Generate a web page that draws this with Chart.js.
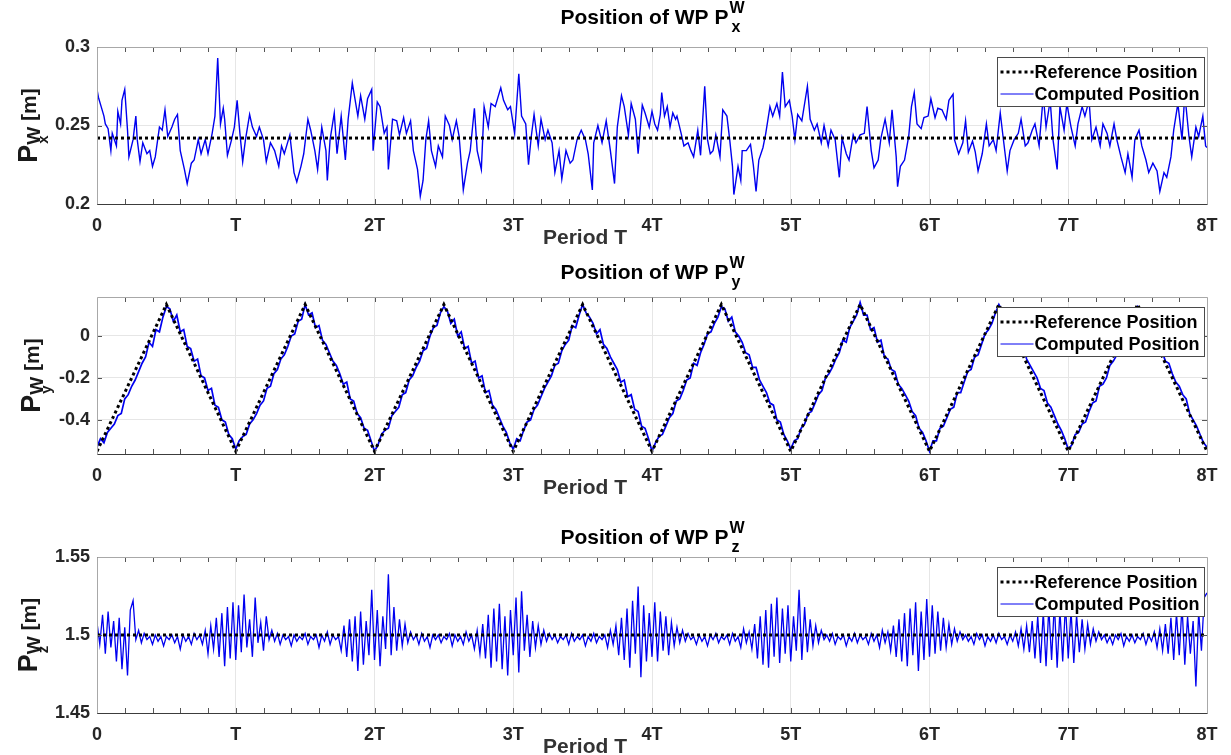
<!DOCTYPE html>
<html lang="en">
<head>
<meta charset="UTF-8">
<title>Position of WP</title>
<style>
  body { margin: 0; background: #fff; }
  #wrap { position: relative; width: 1231px; height: 755px; background: #fff; }
  #wrap canvas { position: absolute; left: 0; }
</style>
</head>
<body>
<div id="wrap">
  <canvas id="chartX" width="1231" height="250" style="top:0px"></canvas>
  <canvas id="chartY" width="1231" height="260" style="top:250px"></canvas>
  <canvas id="chartZ" width="1231" height="245" style="top:510px"></canvas>
</div>

<script src="https://cdn.jsdelivr.net/npm/chart.js"></script>
<script>
// x axis labels (period T)
const periodLabels = ['0', 'T', '2T', '3T', '4T', '5T', '6T', '7T', '8T'];

// --- panel 1: P_x ---
const pxRefTime = [0, 8];
const pxRefValue = [0.242, 0.242];
const pxTime = [
  0.00,0.01,0.03,0.05,0.06,0.08,0.10,0.11,0.14,0.15,
  0.17,0.18,0.20,0.22,0.23,0.26,0.28,0.29,0.31,0.33,
  0.36,0.38,0.40,0.42,0.45,0.47,0.49,0.51,0.54,0.56,
  0.58,0.60,0.63,0.65,0.68,0.70,0.73,0.75,0.78,0.80,
  0.83,0.85,0.87,0.89,0.91,0.92,0.94,0.97,0.99,
  1.01,1.03,1.05,1.07,1.10,1.12,1.15,1.17,1.20,1.22,
  1.25,1.28,1.31,1.33,1.35,1.39,1.42,1.44,1.47,1.49,
  1.52,1.54,1.57,1.59,1.62,1.65,1.66,1.68,1.71,1.73,
  1.76,1.79,1.81,1.84,1.88,1.90,1.93,1.95,1.98,1.99,
  2.02,2.04,2.07,2.09,2.10,2.13,2.16,2.18,2.21,2.23,
  2.26,2.28,2.31,2.33,2.35,2.37,2.39,2.41,2.44,2.46,
  2.49,2.51,2.54,2.56,2.59,2.61,2.64,2.67,2.69,2.72,
  2.74,2.77,2.79,2.82,2.84,2.87,2.91,2.93,2.96,2.98,
  3.01,3.04,3.06,3.09,3.11,3.13,3.15,3.18,3.20,3.23,
  3.25,3.28,3.30,3.33,3.35,3.38,3.41,3.43,3.46,3.49,
  3.52,3.54,3.57,3.58,3.61,3.64,3.67,3.70,3.73,3.75,
  3.78,3.80,3.83,3.85,3.88,3.90,3.93,3.95,3.98,
  4.00,4.02,4.04,4.06,4.07,4.09,4.11,4.13,4.15,4.17,
  4.18,4.21,4.23,4.26,4.28,4.30,4.33,4.35,4.38,4.40,
  4.42,4.44,4.46,4.49,4.51,4.54,4.56,4.58,4.59,4.62,
  4.64,4.65,4.68,4.71,4.73,4.75,4.77,4.80,4.82,4.85,
  4.87,4.90,4.92,4.94,4.96,4.99,
  5.01,5.03,5.05,5.08,5.12,5.14,5.17,5.19,5.22,5.24,
  5.27,5.29,5.32,5.35,5.37,5.40,5.42,5.45,5.47,5.50,
  5.53,5.55,5.58,5.60,5.63,5.65,5.68,5.71,5.73,5.76,
  5.77,5.79,5.82,5.85,5.87,5.89,5.91,5.94,5.96,5.99,
  6.01,6.04,6.06,6.09,6.12,6.14,6.17,6.18,6.21,6.24,
  6.26,6.28,6.31,6.33,6.35,6.38,6.41,6.43,6.46,6.48,
  6.51,6.53,6.56,6.58,6.61,6.64,6.66,6.69,6.71,6.74,
  6.76,6.79,6.82,6.84,6.87,6.89,6.92,6.94,6.97,6.99,
  7.02,7.05,7.07,7.10,7.12,7.15,7.17,7.20,7.23,7.25,
  7.28,7.30,7.33,7.35,7.38,7.41,7.43,7.46,7.48,7.51,
  7.53,7.56,7.58,7.61,7.64,7.66,7.69,7.71,7.74,7.76,
  7.79,7.82,7.84,7.87,7.89,7.92,7.94,7.97,7.99,8.00
];
const pxComputed = [
  0.273,0.268,0.262,0.256,0.251,0.248,0.234,0.245,0.237,0.259,
  0.251,0.266,0.273,0.247,0.230,0.241,0.256,0.241,0.227,0.239,
  0.232,0.234,0.224,0.230,0.249,0.247,0.260,0.243,0.249,0.254,
  0.257,0.234,0.222,0.213,0.226,0.228,0.241,0.232,0.241,0.232,
  0.245,0.256,0.293,0.251,0.261,0.254,0.231,0.241,0.249,
  0.266,0.245,0.227,0.241,0.257,0.249,0.243,0.249,0.241,0.227,
  0.239,0.234,0.224,0.237,0.232,0.244,0.220,0.214,0.224,0.232,
  0.254,0.247,0.234,0.222,0.249,0.234,0.215,0.241,0.258,0.232,
  0.256,0.228,0.254,0.277,0.256,0.269,0.254,0.267,0.273,0.234,
  0.265,0.262,0.245,0.249,0.222,0.254,0.253,0.244,0.255,0.245,
  0.253,0.234,0.222,0.205,0.215,0.241,0.253,0.234,0.224,0.237,
  0.230,0.256,0.250,0.241,0.253,0.243,0.209,0.226,0.234,0.261,
  0.234,0.222,0.262,0.249,0.264,0.262,0.274,0.266,0.260,0.262,
  0.245,0.283,0.256,0.251,0.225,0.243,0.257,0.237,0.254,0.241,
  0.247,0.239,0.220,0.234,0.216,0.234,0.226,0.228,0.241,0.247,
  0.241,0.232,0.209,0.239,0.250,0.239,0.253,0.234,0.213,0.249,
  0.269,0.262,0.244,0.264,0.254,0.232,0.263,0.258,0.249,
  0.259,0.251,0.247,0.257,0.271,0.256,0.262,0.249,0.258,0.254,
  0.256,0.245,0.237,0.239,0.234,0.230,0.247,0.231,0.275,0.241,
  0.232,0.234,0.244,0.230,0.260,0.256,0.241,0.224,0.206,0.224,
  0.215,0.234,0.234,0.238,0.225,0.208,0.228,0.236,0.245,0.262,
  0.256,0.264,0.256,0.284,0.262,0.266,
  0.256,0.241,0.257,0.253,0.275,0.254,0.247,0.251,0.239,0.250,
  0.237,0.247,0.241,0.217,0.242,0.232,0.228,0.244,0.239,0.244,
  0.245,0.262,0.234,0.223,0.228,0.242,0.254,0.239,0.260,0.230,
  0.211,0.224,0.228,0.243,0.262,0.271,0.251,0.248,0.255,0.256,
  0.267,0.255,0.261,0.260,0.254,0.266,0.270,0.241,0.232,0.239,
  0.253,0.233,0.240,0.233,0.221,0.232,0.251,0.237,0.241,0.234,
  0.258,0.243,0.221,0.234,0.241,0.245,0.254,0.237,0.239,0.247,
  0.251,0.237,0.269,0.249,0.266,0.241,0.222,0.262,0.247,0.264,
  0.249,0.237,0.251,0.262,0.256,0.266,0.241,0.249,0.237,0.251,
  0.245,0.237,0.251,0.241,0.230,0.220,0.232,0.217,0.241,0.247,
  0.237,0.228,0.220,0.226,0.221,0.208,0.220,0.217,0.230,0.247,
  0.264,0.241,0.270,0.243,0.230,0.249,0.243,0.256,0.237,0.236
];
const pxTicks = [0.2, 0.25, 0.3];
const pxTickLabels = ['0.2', '0.25', '0.3'];

// --- panel 2: P_y (triangle reference) ---
const pyRefTime = [0, 0.5, 1, 1.5, 2, 2.5, 3, 3.5, 4, 4.5, 5, 5.5, 6, 6.5, 7, 7.5, 8];
const pyRefValue = [-0.55, 0.15, -0.55, 0.15, -0.55, 0.15, -0.55, 0.15, -0.55,
                    0.15, -0.55, 0.15, -0.55, 0.15, -0.55, 0.15, -0.55];
const pyStep = 0.025; // sampling of the computed series, in periods
const pyComputed = [
  -0.53,-0.49,-0.51,-0.46,-0.44,-0.42,-0.38,-0.37,-0.30,-0.28,-0.24,-0.21,-0.17,-0.13,-0.10,-0.03,-0.05,0.03,0.02,0.09,0.14,
  0.13,0.07,0.10,0.02,0.03,-0.05,-0.06,-0.12,-0.11,-0.19,-0.20,-0.26,-0.25,-0.33,-0.34,-0.40,-0.41,-0.47,-0.49,
  -0.54,-0.50,-0.48,-0.47,-0.42,-0.40,-0.37,-0.33,-0.31,-0.25,-0.24,-0.18,-0.16,-0.11,-0.09,-0.05,0.00,0.01,0.07,0.08,0.15,
  0.10,0.11,0.04,0.05,-0.02,-0.04,-0.08,-0.12,-0.14,-0.18,-0.23,-0.22,-0.30,-0.31,-0.37,-0.39,-0.44,-0.45,-0.50,
  -0.55,-0.52,-0.47,-0.45,-0.44,-0.38,-0.36,-0.34,-0.28,-0.27,-0.21,-0.19,-0.15,-0.12,-0.07,-0.06,0.00,0.04,0.05,0.11,0.14,
  0.12,0.06,0.08,0.00,0.02,-0.06,-0.05,-0.13,-0.12,-0.20,-0.19,-0.27,-0.26,-0.33,-0.35,-0.39,-0.43,-0.46,-0.51,
  -0.54,-0.49,-0.50,-0.45,-0.41,-0.40,-0.35,-0.33,-0.29,-0.25,-0.22,-0.19,-0.14,-0.13,-0.07,-0.04,-0.02,0.05,0.04,0.10,0.15,
  0.11,0.09,0.06,0.01,0.03,-0.04,-0.06,-0.10,-0.13,-0.16,-0.22,-0.21,-0.29,-0.28,-0.35,-0.36,-0.43,-0.44,-0.49,
  -0.55,-0.51,-0.48,-0.47,-0.43,-0.39,-0.37,-0.31,-0.30,-0.26,-0.21,-0.20,-0.13,-0.14,-0.08,-0.04,0.01,0.02,0.06,0.09,0.14,
  0.13,0.07,0.09,0.02,0.00,-0.03,-0.08,-0.09,-0.15,-0.15,-0.21,-0.24,-0.27,-0.32,-0.33,-0.40,-0.41,-0.47,-0.50,
  -0.54,-0.50,-0.49,-0.44,-0.42,-0.37,-0.36,-0.32,-0.28,-0.26,-0.20,-0.18,-0.15,-0.11,-0.08,-0.02,-0.03,0.04,0.07,0.10,0.16,
  0.10,0.10,0.03,0.04,-0.03,-0.02,-0.10,-0.11,-0.16,-0.17,-0.23,-0.25,-0.28,-0.31,-0.36,-0.38,-0.44,-0.46,-0.50,
  -0.55,-0.50,-0.50,-0.44,-0.43,-0.39,-0.35,-0.34,-0.27,-0.27,-0.22,-0.17,-0.16,-0.10,-0.09,-0.04,0.01,0.03,0.06,0.11,0.15,
  0.12,0.08,0.07,0.03,0.01,-0.05,-0.04,-0.11,-0.14,-0.17,-0.20,-0.25,-0.26,-0.32,-0.34,-0.38,-0.42,-0.45,-0.49,
  -0.54,-0.52,-0.47,-0.46,-0.42,-0.41,-0.36,-0.32,-0.31,-0.24,-0.23,-0.20,-0.14,-0.12,-0.09,-0.03,-0.01,0.04,0.05,0.10,0.14,
  0.11,0.09,0.05,0.04,-0.02,-0.04,-0.07,-0.12,-0.13,-0.18,-0.22,-0.24,-0.28,-0.30,-0.37,-0.40,-0.43,-0.47,-0.51,
  -0.53
];
const pyTicks = [-0.4, -0.2, 0];
const pyTickLabels = ['-0.4', '-0.2', '0'];

// --- panel 3: P_z ---
const pzRefTime = [0, 8];
const pzRefValue = [1.5, 1.5];
const pzStep = 0.02;
const pzComputed = [
  1.508,1.494,1.513,1.488,1.515,1.492,1.509,1.483,1.511,1.478,1.505,1.474,1.516,
  1.522,1.497,1.503,1.495,1.501,1.497,1.499,1.494,1.500,1.496,1.499,1.493,1.499,1.497,1.500,1.495,1.499,1.491,1.500,1.496,1.499,1.494,1.501,1.497,1.500,
  1.494,1.503,1.488,1.506,1.491,1.511,1.486,1.514,1.480,1.518,1.485,1.521,
  1.484,1.519,1.489,1.526,1.492,1.510,1.486,1.524,1.495,1.508,1.490,1.512,1.497,
  1.503,1.496,1.501,1.494,1.500,1.497,1.499,1.493,1.500,1.496,1.499,1.497,1.501,1.494,1.499,1.497,1.500,1.492,1.500,1.496,1.502,1.494,1.500,1.497,1.499,
  1.490,1.506,1.486,1.510,1.483,1.512,1.477,1.515,1.481,1.509,1.487,1.529,
  1.484,1.516,1.480,1.512,1.491,1.539,1.487,1.518,1.490,1.510,1.493,1.507,1.495,
  1.502,1.497,1.500,1.494,1.501,1.496,1.499,1.492,1.500,1.497,1.500,1.495,1.499,1.497,1.501,1.493,1.500,1.496,1.499,1.494,1.502,1.496,1.500,1.491,1.503,
  1.488,1.507,1.485,1.513,1.479,1.517,1.483,1.520,1.478,1.512,1.474,1.516,
  1.487,1.524,1.476,1.528,1.490,1.513,1.486,1.509,1.492,1.506,1.494,1.503,1.496,
  1.501,1.497,1.500,1.495,1.499,1.497,1.500,1.494,1.501,1.496,1.499,1.497,1.500,1.493,1.499,1.496,1.501,1.495,1.499,1.497,1.500,1.492,1.503,1.494,1.506,
  1.487,1.511,1.484,1.517,1.479,1.522,1.488,1.531,1.473,1.519,1.483,1.514,
  1.486,1.521,1.483,1.515,1.490,1.512,1.487,1.508,1.493,1.505,1.495,1.503,1.496,
  1.501,1.497,1.499,1.494,1.500,1.496,1.499,1.493,1.500,1.497,1.501,1.495,1.499,1.497,1.500,1.494,1.501,1.496,1.499,1.492,1.504,1.495,1.502,1.491,1.507,
  1.485,1.512,1.481,1.516,1.479,1.520,1.486,1.524,1.482,1.517,1.488,1.519,
  1.483,1.512,1.490,1.529,1.484,1.518,1.489,1.510,1.493,1.506,1.495,1.503,1.497,
  1.500,1.496,1.501,1.494,1.499,1.497,1.500,1.493,1.499,1.496,1.501,1.495,1.500,1.497,1.499,1.494,1.501,1.496,1.500,1.492,1.503,1.495,1.502,1.490,1.506,
  1.486,1.510,1.483,1.514,1.480,1.517,1.487,1.521,1.477,1.515,1.484,1.523,
  1.486,1.519,1.488,1.515,1.490,1.511,1.492,1.507,1.494,1.504,1.496,1.502,1.497,
  1.500,1.496,1.499,1.494,1.501,1.497,1.500,1.493,1.499,1.496,1.500,1.495,1.501,1.497,1.499,1.494,1.500,1.496,1.502,1.493,1.504,1.491,1.506,1.489,1.509,
  1.485,1.512,1.482,1.515,1.480,1.518,1.484,1.521,1.479,1.516,1.483,1.520,
  1.485,1.516,1.482,1.513,1.489,1.510,1.491,1.507,1.494,1.504,1.496,1.502,1.497,
  1.500,1.495,1.499,1.494,1.500,1.497,1.501,1.493,1.499,1.496,1.500,1.495,1.499,1.497,1.501,1.494,1.500,1.496,1.502,1.492,1.504,1.490,1.507,1.488,1.511,
  1.484,1.514,1.487,1.519,1.481,1.512,1.488,1.509,1.467,1.515,1.490,1.524,
  1.527
];
const pzTicks = [1.45, 1.5, 1.55];
const pzTickLabels = ['1.45', '1.5', '1.55'];

const FONT = "'Liberation Sans', Arial, Helvetica, sans-serif";
function bold(size) { return 'bold ' + size + 'px ' + FONT; }

function toPoints(times, values) {
  return values.map((v, i) => ({ x: times[i], y: v }));
}
function stepTimes(values, step) {
  return values.map((v, i) => +(i * step).toFixed(3));
}

// title "Position of WP P" with W superscript and axis subscript
function drawTitle(ctx, cx, base, sub) {
  const main = 'Position of WP P';
  ctx.font = bold(21);
  const wm = ctx.measureText(main).width;
  ctx.font = bold(16);
  const ws = Math.max(ctx.measureText('W').width, ctx.measureText(sub).width);
  const x0 = cx - (wm + ws) / 2;
  ctx.fillStyle = '#000';
  ctx.textAlign = 'left';
  ctx.textBaseline = 'alphabetic';
  ctx.font = bold(21);
  ctx.fillText(main, x0, base);
  ctx.font = bold(16);
  ctx.fillText('W', x0 + wm + 1, base - 11);
  ctx.fillText(sub, x0 + wm + 3, base + 8);
}

// rotated y label "P^W_sub [m]"
function drawYLabel(ctx, bx, cy, sub) {
  ctx.save();
  ctx.translate(bx, cy);
  ctx.rotate(-Math.PI / 2);
  ctx.fillStyle = '#1a1a1a';
  ctx.textAlign = 'left';
  ctx.textBaseline = 'alphabetic';
  ctx.font = bold(27);
  const wp = ctx.measureText('P').width;
  ctx.font = bold(19);
  const wW = ctx.measureText('W').width;
  ctx.font = bold(21);
  const wsp = ctx.measureText(' ').width;
  const wm = ctx.measureText('[m]').width;
  let x = -(wp + wW + wsp + wm) / 2;
  ctx.font = bold(27);
  ctx.fillText('P', x, 0);
  x += wp;
  ctx.font = bold(19);
  ctx.fillText('W', x, 3);
  ctx.font = bold(15);
  ctx.fillText(sub, x + 1, 11);
  x += wW + wsp;
  ctx.font = bold(21);
  ctx.fillText('[m]', x, -1);
  ctx.restore();
}

// axes box, minor ticks, legend and labels in the MATLAB look
function makeLook(p) {
  return {
    id: 'matlabLook',
    afterDatasetsDraw(chart) {
      const { ctx, chartArea: a } = chart;
      const xs = chart.scales.x, ys = chart.scales.y;
      ctx.save();
      ctx.lineWidth = 1;
      ctx.strokeStyle = '#555';
      ctx.setLineDash([]);
      ctx.beginPath();
      for (let k = 1; k < 40; k++) {
        const px = Math.round(xs.getPixelForValue(k * 0.2)) + 0.5;
        ctx.moveTo(px, a.bottom); ctx.lineTo(px, a.bottom - 5);
        ctx.moveTo(px, a.top); ctx.lineTo(px, a.top + 5);
      }
      p.ticks.forEach(v => {
        const py = Math.round(ys.getPixelForValue(v)) + 0.5;
        ctx.moveTo(a.left, py); ctx.lineTo(a.left + 5, py);
        ctx.moveTo(a.right, py); ctx.lineTo(a.right - 5, py);
      });
      ctx.stroke();

      // box
      const l = Math.round(a.left) + 0.5, r = Math.round(a.right) + 0.5;
      const t = Math.round(a.top) + 0.5, b = Math.round(a.bottom) + 0.5;
      ctx.strokeStyle = '#a8a8a8';
      ctx.beginPath();
      ctx.moveTo(l, b); ctx.lineTo(l, t); ctx.lineTo(r, t); ctx.lineTo(r, b);
      ctx.stroke();
      ctx.strokeStyle = '#3c3c3c';
      ctx.beginPath();
      ctx.moveTo(l, b); ctx.lineTo(r, b);
      ctx.stroke();

      // legend
      const lw = 207, lh = 49;
      const lx = Math.round(a.right - 3 - lw) + 0.5, ly = Math.round(a.top + 10) + 0.5;
      ctx.fillStyle = '#fff';
      ctx.fillRect(lx, ly, lw, lh);
      ctx.strokeStyle = '#4a4a4a';
      ctx.strokeRect(lx, ly, lw, lh);
      const ds = chart.data.datasets;
      [14, 36].forEach((dy, i) => {
        const d = ds[i];
        const yy = Math.round(ly + dy);
        ctx.beginPath();
        ctx.strokeStyle = d.borderColor;
        ctx.lineWidth = i === 0 ? 3 : 1;
        ctx.setLineDash(d.borderDash || []);
        ctx.moveTo(lx + 3, yy); ctx.lineTo(lx + 36, yy);
        ctx.stroke();
        ctx.setLineDash([]);
        ctx.fillStyle = '#000';
        ctx.font = bold(18);
        ctx.textAlign = 'left';
        ctx.textBaseline = 'middle';
        ctx.fillText(d.label, lx + 37, yy + 1);
      });
      ctx.restore();
    },
    afterDraw(chart) {
      const { ctx, chartArea: a } = chart;
      ctx.save();
      drawTitle(ctx, (a.left + a.right) / 2, p.titleBase, p.sub);
      drawYLabel(ctx, p.yLabelX, (a.top + a.bottom) / 2, p.sub);
      ctx.fillStyle = '#333';
      ctx.font = bold(21);
      ctx.textAlign = 'center';
      ctx.textBaseline = 'middle';
      ctx.fillText('Period T', a.left + 488, a.bottom + 34);
      ctx.restore();
    }
  };
}

function makePanel(id, p) {
  const canvas = document.getElementById(id);
  const plotBottom = p.plotBottom;
  return new Chart(canvas, {
    type: 'line',
    data: {
      datasets: [
        {
          label: 'Reference Position',
          data: p.ref,
          borderColor: '#000',
          borderWidth: 3,
          borderDash: [3, 3],
          pointRadius: 0,
          tension: 0,
          fill: false,
          order: 0
        },
        {
          label: 'Computed Position',
          data: p.computed,
          borderColor: '#0000f0',
          borderWidth: p.lineWidth,
          pointRadius: 0,
          tension: 0,
          fill: false,
          order: 1
        }
      ]
    },
    options: {
      responsive: false,
      animation: false,
      events: [],
      layout: { padding: { top: 47, right: 24, left: 0, bottom: 0 } },
      scales: {
        x: {
          type: 'linear',
          min: 0,
          max: 8,
          afterBuildTicks: s => { s.ticks = periodLabels.map((lab, i) => ({ value: i })); },
          afterFit: s => { s.height = canvas.height - plotBottom; },
          ticks: {
            callback: (v, i) => periodLabels[i],
            font: { family: FONT, size: 18, weight: 'bold' },
            color: '#262626',
            padding: 11,
            maxRotation: 0,
            autoSkip: false
          },
          grid: { color: '#e6e6e6', drawTicks: false },
          border: { display: false }
        },
        y: {
          min: p.min,
          max: p.max,
          afterBuildTicks: s => { s.ticks = p.ticks.map(v => ({ value: v })); },
          afterFit: s => { s.width = 97; },
          ticks: {
            callback: (v, i) => p.tickLabels[i],
            font: { family: FONT, size: 18, weight: 'bold' },
            color: '#262626',
            padding: 7
          },
          grid: { color: '#e6e6e6', drawTicks: false },
          border: { display: false }
        }
      },
      plugins: {
        legend: { display: false },
        tooltip: { enabled: false },
        title: { display: false }
      }
    },
    plugins: [makeLook(p)]
  });
}

makePanel('chartX', {
  ref: toPoints(pxRefTime, pxRefValue),
  computed: toPoints(pxTime, pxComputed),
  min: 0.2, max: 0.3, ticks: pxTicks, tickLabels: pxTickLabels,
  plotBottom: 204, titleBase: 24, yLabelX: 37, sub: 'x', lineWidth: 1.4
});
makePanel('chartY', {
  ref: toPoints(pyRefTime, pyRefValue),
  computed: toPoints(stepTimes(pyComputed, pyStep), pyComputed),
  min: -0.563, max: 0.186, ticks: pyTicks, tickLabels: pyTickLabels,
  plotBottom: 204, titleBase: 29, yLabelX: 40, sub: 'y', lineWidth: 1.7
});
makePanel('chartZ', {
  ref: toPoints(pzRefTime, pzRefValue),
  computed: toPoints(stepTimes(pzComputed, pzStep), pzComputed),
  min: 1.45, max: 1.55, ticks: pzTicks, tickLabels: pzTickLabels,
  plotBottom: 203, titleBase: 34, yLabelX: 37, sub: 'z', lineWidth: 1.3
});
</script>
</body>
</html>
